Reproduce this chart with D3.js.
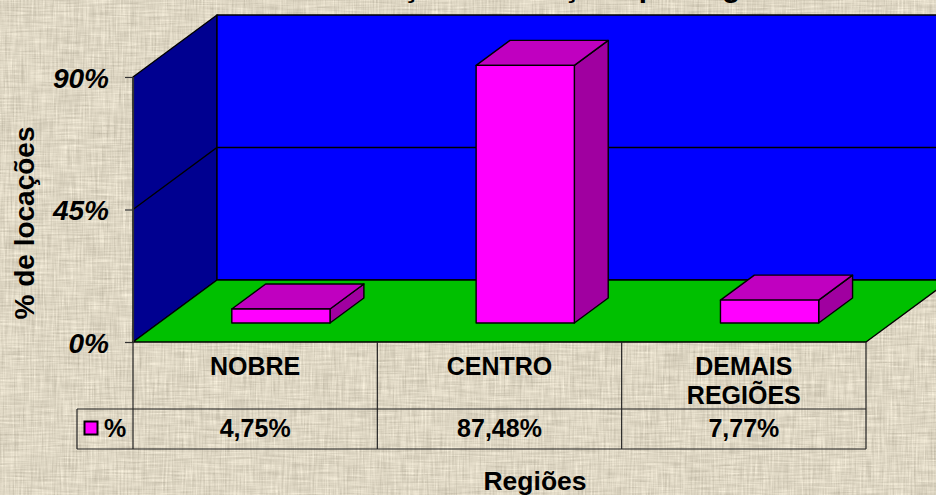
<!DOCTYPE html>
<html>
<head>
<meta charset="utf-8">
<style>
html,body{margin:0;padding:0;background:#e0d8c5;overflow:hidden}
svg{display:block}
text{font-family:"Liberation Sans",Arial,sans-serif;font-weight:bold;fill:#000}
</style>
<script src="https://cdn.jsdelivr.net/npm/d3@7"></script>
</head>
<body>
<svg id="chart" width="936" height="495"></svg>
<script>
const title = "Distribuição de locações por região";
const categories = ["NOBRE", "CENTRO", "DEMAIS REGIÕES"];
const categoryLines = [["NOBRE"], ["CENTRO"], ["DEMAIS", "REGIÕES"]];
const values = [4.75, 87.48, 7.77];
const valueLabels = ["4,75%", "87,48%", "7,77%"];
const yTicks = [0, 45, 90];
const seriesName = "%";
const yTitle = "% de locações";
const xTitle = "Regiões";

const W = 936, H = 495;
const svg = d3.select("#chart");
const x = d3.scaleBand().domain(categories).range([133, 866]);
const y = d3.scaleLinear().domain([0, 90]).range([342, 77]);
const depth = d3.scaleLinear().domain([0, 1]).range([0, 84]);      // floor depth → dx
const depthY = d3.scaleLinear().domain([0, 1]).range([0, -62]);    // floor depth → dy
const P = (px, py, d) => [px + depth(d), py + depthY(d)];
const poly = d3.line().curve(d3.curveLinearClosed);
const seg = d3.line();

// textured background
const defs = svg.append("defs");
const flt = defs.append("filter").attr("id", "burlap")
  .attr("x", 0).attr("y", 0).attr("width", "100%").attr("height", "100%")
  .attr("color-interpolation-filters", "sRGB");
flt.append("feTurbulence").attr("type", "fractalNoise").attr("baseFrequency", "0.035 0.55")
  .attr("numOctaves", 2).attr("seed", 4).attr("result", "h");
flt.append("feTurbulence").attr("type", "fractalNoise").attr("baseFrequency", "0.55 0.035")
  .attr("numOctaves", 2).attr("seed", 9).attr("result", "v");
flt.append("feComposite").attr("in", "h").attr("in2", "v").attr("operator", "arithmetic")
  .attr("k1", 0).attr("k2", 0.5).attr("k3", 0.5).attr("k4", 0).attr("result", "m");
flt.append("feColorMatrix").attr("in", "m").attr("type", "matrix")
  .attr("values", "0.36 0 0 0 0.69  0.36 0 0 0 0.66  0.36 0 0 0 0.585  0 0 0 0 1");
flt.append("feGaussianBlur").attr("stdDeviation", 0.5);
svg.append("rect").attr("width", W).attr("height", H).attr("fill", "#e0d8c5").attr("filter", "url(#burlap)");

const stroke = "#000";
const face = (pts, fill) => svg.append("path").attr("d", poly(pts)).attr("fill", fill)
  .attr("stroke", stroke).attr("stroke-width", 1.4).attr("stroke-linejoin", "round");
const [x0, x1] = x.range();
const y0 = y(0), yT = y(90);

// walls and floor
face([P(x0, y0, 0), P(x0, yT, 0), P(x0, yT, 1), P(x0, y0, 1)], "#000090");
face([P(x0, y0, 1), P(x0, yT, 1), P(x1, yT, 1), P(x1, y0, 1)], "#0000ff");
face([P(x0, y0, 0), P(x1, y0, 0), P(x1, y0, 1), P(x0, y0, 1)], "#00c000");

// gridline at the middle tick
yTicks.filter(t => t > 0 && t < 90).forEach(t => {
  svg.append("path").attr("d", seg([P(x0, y(t), 0), P(x0, y(t), 1), P(x1, y(t), 1)]))
    .attr("fill", "none").attr("stroke", stroke).attr("stroke-width", 1.4);
});

// bars
const barW = x.bandwidth() * 0.402, dNear = 19 / 62, dFar = 44 / 62;
categories.forEach((c, i) => {
  const l = x(c) + x.bandwidth() / 2 - barW / 2, r = l + barW;
  const b = y(0), t = y(values[i]);
  face([P(r, b, dNear), P(r, t, dNear), P(r, t, dFar), P(r, b, dFar)], "#a000a0");
  face([P(l, t, dNear), P(r, t, dNear), P(r, t, dFar), P(l, t, dFar)], "#c000c0");
  face([P(l, b, dNear), P(r, b, dNear), P(r, t, dNear), P(l, t, dNear)], "#ff00ff");
});

// y axis
const axis = svg.append("g").attr("transform", `translate(${x0},0)`)
  .call(d3.axisLeft(y).tickValues(yTicks).tickFormat(d => d + "%").tickSize(8).tickPadding(16));
axis.select(".domain").attr("stroke", "#333").attr("stroke-width", 1.2);
axis.selectAll("line").attr("stroke", "#333").attr("stroke-width", 1.2);
axis.selectAll("text").style("font-size", "28px").style("font-style", "italic").attr("fill", "#000")
  .attr("font-family", null).attr("dy", "0.36em");

// data table
const rowA = 409, rowB = 449, tableLeft = 77;
const rule = (a, b) => svg.append("path").attr("d", seg([a, b])).attr("stroke", "#222").attr("stroke-width", 1.2).attr("fill", "none");
x.domain().forEach(c => rule([x(c), y0], [x(c), rowB]));
rule([x1, y0], [x1, rowB]);
rule([tableLeft, rowA], [x1, rowA]);
rule([tableLeft, rowB], [x1, rowB]);
rule([tableLeft, rowA], [tableLeft, rowB]);

categories.forEach((c, i) => {
  const cx = x(c) + x.bandwidth() / 2;
  categoryLines[i].forEach((ln, j) => {
    svg.append("text").attr("x", cx).attr("y", 375 + j * 29).attr("text-anchor", "middle")
      .style("font-size", "25px").text(ln);
  });
  svg.append("text").attr("x", cx).attr("y", 437).attr("text-anchor", "middle")
    .style("font-size", "25px").text(valueLabels[i]);
});

// legend key in the table
svg.append("rect").attr("x", 84.5).attr("y", 421.5).attr("width", 13).attr("height", 13)
  .attr("fill", "#ff00ff").attr("stroke", "#000").attr("stroke-width", 2);
svg.append("text").attr("x", 104).attr("y", 437).style("font-size", "25px").text(seriesName);

// titles
svg.append("text").attr("x", 535).attr("y", 490).attr("text-anchor", "middle")
  .style("font-size", "26.5px").text(xTitle);
svg.append("text").attr("transform", "translate(34,223) rotate(-90)").attr("text-anchor", "middle")
  .style("font-size", "28px").text(yTitle);
svg.append("text").attr("x", 533).attr("y", -3).attr("text-anchor", "middle")
  .style("font-size", "29.5px").text(title);
</script>
</body>
</html>
